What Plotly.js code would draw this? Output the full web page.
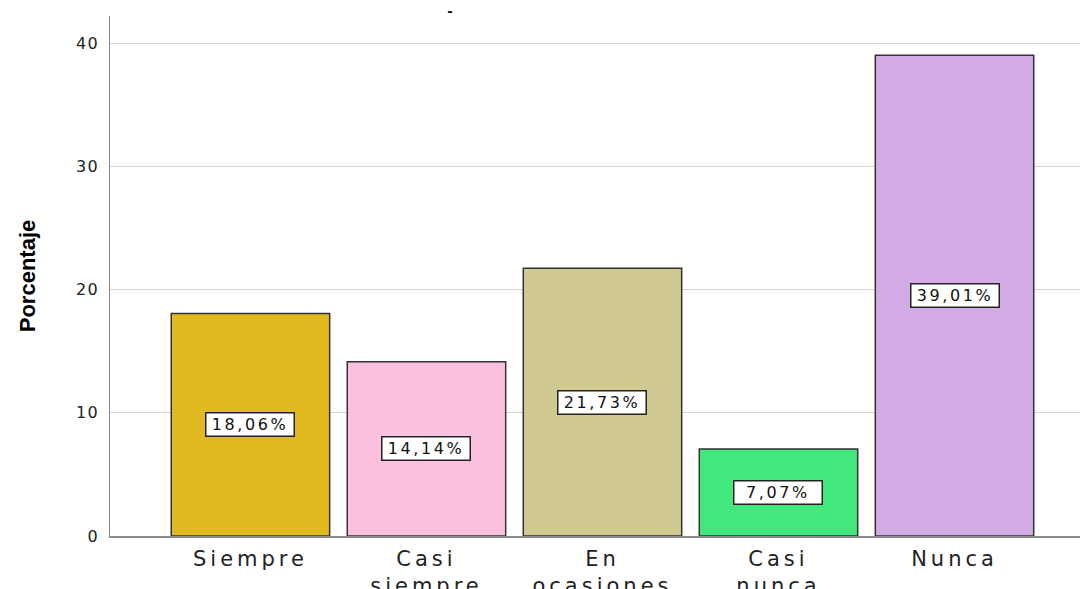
<!DOCTYPE html>
<html>
<head>
<meta charset="utf-8">
<script src="https://cdn.plot.ly/plotly-3.0.1.min.js"></script>
<style>
  html, body { margin: 0; padding: 0; background: #ffffff; }
  #chart { width: 1080px; height: 589px; }
  .xtick text { letter-spacing: 4px; }
  .ytick text { letter-spacing: 1.5px; }
  .annotation-text { letter-spacing: 2.6px; }
</style>
</head>
<body>
<div id="chart"></div>
<script>
// ---- data ----
const categories = ["Siempre", "Casi<br>siempre", "En<br>ocasiones", "Casi<br>nunca", "Nunca"];
const percentages = [18.06, 14.14, 21.73, 7.07, 39.01];
const barColors = ["#E0BA1F", "#FDC1E0", "#D0C992", "#42E87D", "#D2AAE4"];
const yTickValues = [0, 10, 20, 30, 40];
const yAxisTitle = "Porcentaje";
const chartTitle = "-";

function fmtPct(v) {
  return v.toFixed(2).replace(".", ",") + "%";
}

const trace = {
  type: "bar",
  x: categories,
  y: percentages,
  marker: {
    color: barColors,
    line: { color: "#333333", width: 1.5 }
  },
  hoverinfo: "x+y",
  showlegend: false
};

const annotations = categories.map((c, i) => ({
  x: c,
  y: percentages[i] / 2,
  xref: "x",
  yref: "y",
  text: fmtPct(percentages[i]),
  showarrow: false,
  font: { family: "DejaVu Sans, Liberation Sans, sans-serif", size: 16, color: "#111111" },
  bgcolor: "#ffffff",
  bordercolor: "#222222",
  borderwidth: 1.5,
  borderpad: 1,
  width: 85,
  height: 20,
  xanchor: "center",
  yanchor: "middle"
}));

const layout = {
  width: 1080,
  height: 589,
  margin: { l: 110, r: 0, t: 16, b: 53, pad: 0 },
  paper_bgcolor: "#ffffff",
  plot_bgcolor: "#ffffff",
  bargap: 0.1,
  title: {
    text: chartTitle,
    x: 450 / 1080,
    xanchor: "center",
    xref: "container",
    y: 1 - 11 / 589,
    yanchor: "middle",
    yref: "container",
    font: { family: "DejaVu Sans, sans-serif", size: 13, color: "#000000", weight: "bold" }
  },
  xaxis: {
    type: "category",
    range: [-0.798, 4.713],
    showgrid: false,
    zeroline: false,
    showline: true,
    linecolor: "#8a8a8a",
    linewidth: 1.5,
    ticks: "outside",
    ticklen: 3,
    tickcolor: "rgba(0,0,0,0)",
    tickangle: 0,
    tickfont: { family: "DejaVu Sans, Liberation Sans, sans-serif", size: 21, color: "#222222" },
    fixedrange: true
  },
  yaxis: {
    range: [0, 42.2],
    tickvals: yTickValues,
    ticktext: yTickValues.map(String),
    showgrid: true,
    gridcolor: "#d6d6d6",
    gridwidth: 1,
    zeroline: false,
    showline: true,
    linecolor: "#8a8a8a",
    linewidth: 1.5,
    ticks: "outside",
    ticklen: 6,
    tickcolor: "rgba(0,0,0,0)",
    tickfont: { family: "DejaVu Sans, Liberation Sans, sans-serif", size: 16, color: "#222222" },
    title: {
      text: yAxisTitle,
      font: { family: "Liberation Sans Narrow, Arial Narrow, Liberation Sans, sans-serif", size: 22, color: "#000000", weight: "bold" },
      standoff: 34
    },
    automargin: false,
    fixedrange: true
  },
  annotations: annotations
};

Plotly.newPlot("chart", [trace], layout, { displayModeBar: false, staticPlot: true });
</script>
</body>
</html>
